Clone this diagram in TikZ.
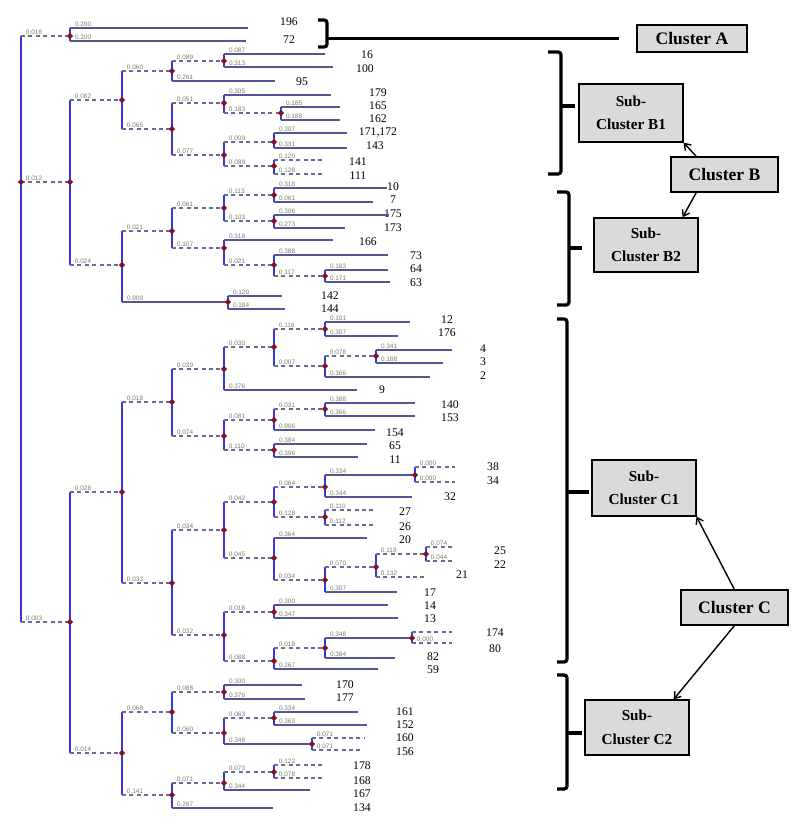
\documentclass[tikz,border=0pt]{standalone}
\usepackage{fontspec}
\setmainfont{Liberation Serif}
\setsansfont{Liberation Sans}
\usetikzlibrary{arrows.meta,shapes.geometric}

\definecolor{barblue}{RGB}{55,55,220}
\definecolor{leafline}{RGB}{85,85,150}
\definecolor{dashline}{RGB}{105,105,150}
\definecolor{lenlab}{RGB}{125,125,105}
\definecolor{nodered}{RGB}{130,20,35}
\definecolor{boxgray}{RGB}{218,218,218}

\tikzset{
  vbar/.style={draw=barblue, line width=2pt},
  ledge/.style={draw=leafline, line width=1pt},
  iedge/.style={draw=dashline, line width=0.9pt, dash pattern=on 3.5pt off 2.8pt},
  blab/.style={pos=0, anchor=south west, xshift=3pt, inner sep=0.8pt, text=lenlab, font=\sffamily\fontsize{5.5}{6}\selectfont},
  dot/.style={diamond, fill=nodered, inner sep=0pt, minimum size=5.5pt},
  leaf/.style={font=\fontsize{10}{12}\selectfont, inner sep=0pt},
  clbox/.style={draw, line width=1.3pt, fill=boxgray, font=\bfseries\fontsize{15}{18}\selectfont, minimum width=91pt, minimum height=29.8pt, inner sep=0pt},
  subbox/.style={draw, line width=1.3pt, fill=boxgray, align=center, font=\bfseries\fontsize{13}{20}\selectfont, minimum width=88.4pt, minimum height=48pt, inner sep=0pt},
  brk/.style={line width=2.8pt, rounded corners=2.5pt},
  arr/.style={-{Straight Barb[length=5pt,width=7pt]}, line width=1.2pt}
}

\begin{document}
\begin{tikzpicture}[x=0.03cm, y=-0.03cm]
        \useasboundingbox (0,0) rectangle (795,835);

        % root and the three clusters
        \coordinate (r) at (21,182);
        \coordinate (a) at (70,36);
        \coordinate (b) at (70,182);
        \coordinate (c) at (70,622);
        % cluster B
        \coordinate (b1) at (122,100);
        \coordinate (b2) at (122,265);
        \coordinate (b11) at (172,71);
        \coordinate (b12) at (172,129);
        \coordinate (b111) at (224,61);
        \coordinate (b121) at (224,103);
        \coordinate (b122) at (224,155);
        \coordinate (b1211) at (281,113);
        \coordinate (b1221) at (274,142);
        \coordinate (b1222) at (274,166);
        \coordinate (b21) at (172,231);
        \coordinate (b22) at (228,302);
        \coordinate (b211) at (224,208);
        \coordinate (b212) at (224,248);
        \coordinate (b2111) at (274,195);
        \coordinate (b2112) at (274,221);
        \coordinate (b2121) at (274,265);
        \coordinate (b21211) at (325,276);
        % cluster C
        \coordinate (c1) at (122,492);
        \coordinate (c2) at (122,753);
        \coordinate (c11) at (172,402);
        \coordinate (c12) at (172,583);
        \coordinate (c111) at (224,369);
        \coordinate (c112) at (224,436);
        \coordinate (c1111) at (274,347);
        \coordinate (c11111) at (325,329);
        \coordinate (c11112) at (325,366);
        \coordinate (c111121) at (376,356);
        \coordinate (c1121) at (274,420);
        \coordinate (c1122) at (274,450);
        \coordinate (c11211) at (325,409);
        \coordinate (c121) at (224,530);
        \coordinate (c122) at (224,635);
        \coordinate (c1211) at (274,502);
        \coordinate (c1212) at (274,558);
        \coordinate (c12111) at (325,487);
        \coordinate (c12112) at (325,517);
        \coordinate (c121111) at (415,475);
        \coordinate (c12121) at (325,580);
        \coordinate (c121211) at (376,567);
        \coordinate (c1212111) at (426,554);
        \coordinate (c1221) at (274,612);
        \coordinate (c1222) at (274,661);
        \coordinate (c12221) at (325,648);
        \coordinate (c122211) at (412,638);
        \coordinate (c21) at (172,712);
        \coordinate (c22) at (172,795);
        \coordinate (c211) at (224,692);
        \coordinate (c212) at (224,733);
        \coordinate (c2121) at (274,718);
        \coordinate (c2122) at (312,744);
        \coordinate (c221) at (224,783);
        \coordinate (c2211) at (274,772);

        % leaf ends
        \coordinate (l196) at (248,28);
        \coordinate (l72) at (246,41);
        \coordinate (l16) at (325,54);
        \coordinate (l100) at (333,67);
        \coordinate (l95) at (275,81);
        \coordinate (l179) at (331,95);
        \coordinate (l165) at (340,107);
        \coordinate (l162) at (340,120);
        \coordinate (l171) at (347,133);
        \coordinate (l143) at (347,148);
        \coordinate (l141) at (325,160);
        \coordinate (l111) at (325,174);
        \coordinate (l10) at (387,188);
        \coordinate (l7) at (373,202);
        \coordinate (l175) at (389,215);
        \coordinate (l173) at (345,228);
        \coordinate (l166) at (333,240);
        \coordinate (l73) at (388,255);
        \coordinate (l64) at (388,270);
        \coordinate (l63) at (390,282);
        \coordinate (l142) at (282,296);
        \coordinate (l144) at (285,309);
        \coordinate (l12) at (410,322);
        \coordinate (l176) at (398,336);
        \coordinate (l4) at (452,350);
        \coordinate (l3) at (443,363);
        \coordinate (l2) at (430,377);
        \coordinate (l9) at (357,390);
        \coordinate (l140) at (415,403);
        \coordinate (l153) at (415,416);
        \coordinate (l154) at (375,430);
        \coordinate (l65) at (367,444);
        \coordinate (l11) at (358,457);
        \coordinate (l38) at (455,467);
        \coordinate (l34) at (455,482);
        \coordinate (l32) at (412,497);
        \coordinate (l27) at (375,510);
        \coordinate (l26) at (375,525);
        \coordinate (l20) at (367,538);
        \coordinate (l25) at (455,547);
        \coordinate (l22) at (455,561);
        \coordinate (l21) at (425,577);
        \coordinate (l17) at (397,592);
        \coordinate (l14) at (388,605);
        \coordinate (l13) at (398,618);
        \coordinate (l174) at (452,632);
        \coordinate (l80) at (452,643);
        \coordinate (l82) at (395,658);
        \coordinate (l59) at (378,669);
        \coordinate (l170) at (302,685);
        \coordinate (l177) at (305,699);
        \coordinate (l161) at (358,712);
        \coordinate (l152) at (367,725);
        \coordinate (l160) at (365,738);
        \coordinate (l156) at (362,750);
        \coordinate (l178) at (323,765);
        \coordinate (l168) at (325,778);
        \coordinate (l167) at (310,790);
        \coordinate (l134) at (273,808);

        % leaf numbers
        \node[leaf] (t196) at (289,22) {196};
        \node[leaf] (t72) at (289,40) {72};
        \node[leaf] (t16) at (367,55) {16};
        \node[leaf] (t100) at (365,69) {100};
        \node[leaf] (t95) at (302,82) {95};
        \node[leaf] (t179) at (378,93) {179};
        \node[leaf] (t165) at (378,106) {165};
        \node[leaf] (t162) at (378,119) {162};
        \node[leaf] (t171) at (378,133) {171,172};
        \node[leaf] (t143) at (375,146) {143};
        \node[leaf] (t141) at (358,162) {141};
        \node[leaf] (t111) at (358,176) {111};
        \node[leaf] (t10) at (393,187) {10};
        \node[leaf] (t7) at (393,200) {7};
        \node[leaf] (t175) at (393,214) {175};
        \node[leaf] (t173) at (393,228) {173};
        \node[leaf] (t166) at (368,242) {166};
        \node[leaf] (t73) at (416,256) {73};
        \node[leaf] (t64) at (416,269) {64};
        \node[leaf] (t63) at (416,283) {63};
        \node[leaf] (t142) at (330,296) {142};
        \node[leaf] (t144) at (330,309) {144};
        \node[leaf] (t12) at (447,320) {12};
        \node[leaf] (t176) at (447,333) {176};
        \node[leaf] (t4) at (483,349) {4};
        \node[leaf] (t3) at (483,362) {3};
        \node[leaf] (t2) at (483,376) {2};
        \node[leaf] (t9) at (382,390) {9};
        \node[leaf] (t140) at (450,405) {140};
        \node[leaf] (t153) at (450,418) {153};
        \node[leaf] (t154) at (395,433) {154};
        \node[leaf] (t65) at (395,446) {65};
        \node[leaf] (t11) at (395,460) {11};
        \node[leaf] (t38) at (493,467) {38};
        \node[leaf] (t34) at (493,481) {34};
        \node[leaf] (t32) at (450,497) {32};
        \node[leaf] (t27) at (405,512) {27};
        \node[leaf] (t26) at (405,527) {26};
        \node[leaf] (t20) at (405,540) {20};
        \node[leaf] (t25) at (500,551) {25};
        \node[leaf] (t22) at (500,565) {22};
        \node[leaf] (t21) at (462,575) {21};
        \node[leaf] (t17) at (430,593) {17};
        \node[leaf] (t14) at (430,606) {14};
        \node[leaf] (t13) at (430,619) {13};
        \node[leaf] (t174) at (495,633) {174};
        \node[leaf] (t80) at (495,649) {80};
        \node[leaf] (t82) at (433,657) {82};
        \node[leaf] (t59) at (433,670) {59};
        \node[leaf] (t170) at (345,685) {170};
        \node[leaf] (t177) at (345,698) {177};
        \node[leaf] (t161) at (405,712) {161};
        \node[leaf] (t152) at (405,725) {152};
        \node[leaf] (t160) at (405,738) {160};
        \node[leaf] (t156) at (405,752) {156};
        \node[leaf] (t178) at (362,766) {178};
        \node[leaf] (t168) at (362,781) {168};
        \node[leaf] (t167) at (362,794) {167};
        \node[leaf] (t134) at (362,808) {134};

        % root
        \draw[vbar] (r |- a) -- (r |- c);
        \draw[iedge] (r |- a) -- node[blab] {0.018} (a);
        \draw[iedge] (r) -- node[blab] {0.012} (b);
        \draw[iedge] (r |- c) -- node[blab] {0.003} (c);
        \node[dot] at (r) {};

        % cluster A
        \draw[vbar] (a |- l196) -- (a |- l72);
        \draw[ledge] (a |- l196) -- node[blab] {0.200} (l196);
        \draw[ledge] (a |- l72) -- node[blab] {0.200} (l72);
        \node[dot] at (a) {};

        % cluster B
        \draw[vbar] (b |- b1) -- (b |- b2);
        \draw[iedge] (b |- b1) -- node[blab] {0.082} (b1);
        \draw[iedge] (b |- b2) -- node[blab] {0.024} (b2);
        \node[dot] at (b) {};

        \draw[vbar] (b1 |- b11) -- (b1 |- b12);
        \draw[iedge] (b1 |- b11) -- node[blab] {0.060} (b11);
        \draw[iedge] (b1 |- b12) -- node[blab] {0.065} (b12);
        \node[dot] at (b1) {};

        \draw[vbar] (b11 |- b111) -- (b11 |- l95);
        \draw[iedge] (b11 |- b111) -- node[blab] {0.089} (b111);
        \draw[ledge] (b11 |- l95) -- node[blab] {0.261} (l95);
        \node[dot] at (b11) {};

        \draw[vbar] (b111 |- l16) -- (b111 |- l100);
        \draw[ledge] (b111 |- l16) -- node[blab] {0.087} (l16);
        \draw[ledge] (b111 |- l100) -- node[blab] {0.313} (l100);
        \node[dot] at (b111) {};

        \draw[vbar] (b12 |- b121) -- (b12 |- b122);
        \draw[iedge] (b12 |- b121) -- node[blab] {0.051} (b121);
        \draw[iedge] (b12 |- b122) -- node[blab] {0.077} (b122);
        \node[dot] at (b12) {};

        \draw[vbar] (b121 |- l179) -- (b121 |- b1211);
        \draw[ledge] (b121 |- l179) -- node[blab] {0.305} (l179);
        \draw[iedge] (b121 |- b1211) -- node[blab] {0.183} (b1211);
        \node[dot] at (b121) {};

        \draw[vbar] (b1211 |- l165) -- (b1211 |- l162);
        \draw[ledge] (b1211 |- l165) -- node[blab] {0.185} (l165);
        \draw[ledge] (b1211 |- l162) -- node[blab] {0.188} (l162);
        \node[dot] at (b1211) {};

        \draw[vbar] (b122 |- b1221) -- (b122 |- b1222);
        \draw[iedge] (b122 |- b1221) -- node[blab] {0.009} (b1221);
        \draw[iedge] (b122 |- b1222) -- node[blab] {0.089} (b1222);
        \node[dot] at (b122) {};

        \draw[vbar] (b1221 |- l171) -- (b1221 |- l143);
        \draw[ledge] (b1221 |- l171) -- node[blab] {0.307} (l171);
        \draw[ledge] (b1221 |- l143) -- node[blab] {0.331} (l143);
        \node[dot] at (b1221) {};

        \draw[vbar] (b1222 |- l141) -- (b1222 |- l111);
        \draw[iedge] (b1222 |- l141) -- node[blab] {0.120} (l141);
        \draw[iedge] (b1222 |- l111) -- node[blab] {0.128} (l111);
        \node[dot] at (b1222) {};

        \draw[vbar] (b2 |- b21) -- (b2 |- b22);
        \draw[iedge] (b2 |- b21) -- node[blab] {0.021} (b21);
        \draw[ledge] (b2 |- b22) -- node[blab] {0.909} (b22);
        \node[dot] at (b2) {};

        \draw[vbar] (b21 |- b211) -- (b21 |- b212);
        \draw[iedge] (b21 |- b211) -- node[blab] {0.061} (b211);
        \draw[iedge] (b21 |- b212) -- node[blab] {0.107} (b212);
        \node[dot] at (b21) {};

        \draw[vbar] (b211 |- b2111) -- (b211 |- b2112);
        \draw[iedge] (b211 |- b2111) -- node[blab] {0.113} (b2111);
        \draw[iedge] (b211 |- b2112) -- node[blab] {0.103} (b2112);
        \node[dot] at (b211) {};

        \draw[vbar] (b2111 |- l10) -- (b2111 |- l7);
        \draw[ledge] (b2111 |- l10) -- node[blab] {0.318} (l10);
        \draw[ledge] (b2111 |- l7) -- node[blab] {0.061} (l7);
        \node[dot] at (b2111) {};

        \draw[vbar] (b2112 |- l175) -- (b2112 |- l173);
        \draw[ledge] (b2112 |- l175) -- node[blab] {0.306} (l175);
        \draw[ledge] (b2112 |- l173) -- node[blab] {0.273} (l173);
        \node[dot] at (b2112) {};

        \draw[vbar] (b212 |- l166) -- (b212 |- b2121);
        \draw[ledge] (b212 |- l166) -- node[blab] {0.318} (l166);
        \draw[iedge] (b212 |- b2121) -- node[blab] {0.021} (b2121);
        \node[dot] at (b212) {};

        \draw[vbar] (b2121 |- l73) -- (b2121 |- b21211);
        \draw[ledge] (b2121 |- l73) -- node[blab] {0.388} (l73);
        \draw[iedge] (b2121 |- b21211) -- node[blab] {0.117} (b21211);
        \node[dot] at (b2121) {};

        \draw[vbar] (b21211 |- l64) -- (b21211 |- l63);
        \draw[ledge] (b21211 |- l64) -- node[blab] {0.183} (l64);
        \draw[ledge] (b21211 |- l63) -- node[blab] {0.171} (l63);
        \node[dot] at (b21211) {};

        \draw[vbar] (b22 |- l142) -- (b22 |- l144);
        \draw[ledge] (b22 |- l142) -- node[blab] {0.120} (l142);
        \draw[ledge] (b22 |- l144) -- node[blab] {0.184} (l144);
        \node[dot] at (b22) {};

        % cluster C
        \draw[vbar] (c |- c1) -- (c |- c2);
        \draw[iedge] (c |- c1) -- node[blab] {0.028} (c1);
        \draw[iedge] (c |- c2) -- node[blab] {0.014} (c2);
        \node[dot] at (c) {};

        \draw[vbar] (c1 |- c11) -- (c1 |- c12);
        \draw[iedge] (c1 |- c11) -- node[blab] {0.018} (c11);
        \draw[iedge] (c1 |- c12) -- node[blab] {0.033} (c12);
        \node[dot] at (c1) {};

        \draw[vbar] (c11 |- c111) -- (c11 |- c112);
        \draw[iedge] (c11 |- c111) -- node[blab] {0.039} (c111);
        \draw[iedge] (c11 |- c112) -- node[blab] {0.074} (c112);
        \node[dot] at (c11) {};

        \draw[vbar] (c111 |- c1111) -- (c111 |- l9);
        \draw[iedge] (c111 |- c1111) -- node[blab] {0.030} (c1111);
        \draw[ledge] (c111 |- l9) -- node[blab] {0.376} (l9);
        \node[dot] at (c111) {};

        \draw[vbar] (c1111 |- c11111) -- (c1111 |- c11112);
        \draw[iedge] (c1111 |- c11111) -- node[blab] {0.116} (c11111);
        \draw[iedge] (c1111 |- c11112) -- node[blab] {0.007} (c11112);
        \node[dot] at (c1111) {};

        \draw[vbar] (c11111 |- l12) -- (c11111 |- l176);
        \draw[ledge] (c11111 |- l12) -- node[blab] {0.101} (l12);
        \draw[ledge] (c11111 |- l176) -- node[blab] {0.307} (l176);
        \node[dot] at (c11111) {};

        \draw[vbar] (c11112 |- c111121) -- (c11112 |- l2);
        \draw[iedge] (c11112 |- c111121) -- node[blab] {0.078} (c111121);
        \draw[ledge] (c11112 |- l2) -- node[blab] {0.366} (l2);
        \node[dot] at (c11112) {};

        \draw[vbar] (c111121 |- l4) -- (c111121 |- l3);
        \draw[ledge] (c111121 |- l4) -- node[blab] {0.341} (l4);
        \draw[ledge] (c111121 |- l3) -- node[blab] {0.188} (l3);
        \node[dot] at (c111121) {};

        \draw[vbar] (c112 |- c1121) -- (c112 |- c1122);
        \draw[iedge] (c112 |- c1121) -- node[blab] {0.081} (c1121);
        \draw[iedge] (c112 |- c1122) -- node[blab] {0.110} (c1122);
        \node[dot] at (c112) {};

        \draw[vbar] (c1121 |- c11211) -- (c1121 |- l154);
        \draw[iedge] (c1121 |- c11211) -- node[blab] {0.031} (c11211);
        \draw[ledge] (c1121 |- l154) -- node[blab] {0.906} (l154);
        \node[dot] at (c1121) {};

        \draw[vbar] (c11211 |- l140) -- (c11211 |- l153);
        \draw[ledge] (c11211 |- l140) -- node[blab] {0.388} (l140);
        \draw[ledge] (c11211 |- l153) -- node[blab] {0.366} (l153);
        \node[dot] at (c11211) {};

        \draw[vbar] (c1122 |- l65) -- (c1122 |- l11);
        \draw[ledge] (c1122 |- l65) -- node[blab] {0.384} (l65);
        \draw[ledge] (c1122 |- l11) -- node[blab] {0.396} (l11);
        \node[dot] at (c1122) {};

        \draw[vbar] (c12 |- c121) -- (c12 |- c122);
        \draw[iedge] (c12 |- c121) -- node[blab] {0.034} (c121);
        \draw[iedge] (c12 |- c122) -- node[blab] {0.032} (c122);
        \node[dot] at (c12) {};

        \draw[vbar] (c121 |- c1211) -- (c121 |- c1212);
        \draw[iedge] (c121 |- c1211) -- node[blab] {0.042} (c1211);
        \draw[iedge] (c121 |- c1212) -- node[blab] {0.045} (c1212);
        \node[dot] at (c121) {};

        \draw[vbar] (c1211 |- c12111) -- (c1211 |- c12112);
        \draw[iedge] (c1211 |- c12111) -- node[blab] {0.064} (c12111);
        \draw[iedge] (c1211 |- c12112) -- node[blab] {0.128} (c12112);
        \node[dot] at (c1211) {};

        \draw[vbar] (c12111 |- c121111) -- (c12111 |- l32);
        \draw[ledge] (c12111 |- c121111) -- node[blab] {0.334} (c121111);
        \draw[ledge] (c12111 |- l32) -- node[blab] {0.344} (l32);
        \node[dot] at (c12111) {};

        \draw[vbar] (c121111 |- l38) -- (c121111 |- l34);
        \draw[iedge] (c121111 |- l38) -- node[blab] {0.000} (l38);
        \draw[iedge] (c121111 |- l34) -- node[blab] {0.000} (l34);
        \node[dot] at (c121111) {};

        \draw[vbar] (c12112 |- l27) -- (c12112 |- l26);
        \draw[iedge] (c12112 |- l27) -- node[blab] {0.110} (l27);
        \draw[iedge] (c12112 |- l26) -- node[blab] {0.112} (l26);
        \node[dot] at (c12112) {};

        \draw[vbar] (c1212 |- l20) -- (c1212 |- c12121);
        \draw[ledge] (c1212 |- l20) -- node[blab] {0.364} (l20);
        \draw[iedge] (c1212 |- c12121) -- node[blab] {0.034} (c12121);
        \node[dot] at (c1212) {};

        \draw[vbar] (c12121 |- c121211) -- (c12121 |- l17);
        \draw[iedge] (c12121 |- c121211) -- node[blab] {0.070} (c121211);
        \draw[ledge] (c12121 |- l17) -- node[blab] {0.307} (l17);
        \node[dot] at (c12121) {};

        \draw[vbar] (c121211 |- c1212111) -- (c121211 |- l21);
        \draw[iedge] (c121211 |- c1212111) -- node[blab] {0.118} (c1212111);
        \draw[iedge] (c121211 |- l21) -- node[blab] {0.132} (l21);
        \node[dot] at (c121211) {};

        \draw[vbar] (c1212111 |- l25) -- (c1212111 |- l22);
        \draw[iedge] (c1212111 |- l25) -- node[blab] {0.074} (l25);
        \draw[iedge] (c1212111 |- l22) -- node[blab] {0.044} (l22);
        \node[dot] at (c1212111) {};

        \draw[vbar] (c122 |- c1221) -- (c122 |- c1222);
        \draw[iedge] (c122 |- c1221) -- node[blab] {0.018} (c1221);
        \draw[iedge] (c122 |- c1222) -- node[blab] {0.088} (c1222);
        \node[dot] at (c122) {};

        \draw[vbar] (c1221 |- l14) -- (c1221 |- l13);
        \draw[ledge] (c1221 |- l14) -- node[blab] {0.300} (l14);
        \draw[ledge] (c1221 |- l13) -- node[blab] {0.347} (l13);
        \node[dot] at (c1221) {};

        \draw[vbar] (c1222 |- c12221) -- (c1222 |- l59);
        \draw[iedge] (c1222 |- c12221) -- node[blab] {0.018} (c12221);
        \draw[ledge] (c1222 |- l59) -- node[blab] {0.267} (l59);
        \node[dot] at (c1222) {};

        \draw[vbar] (c12221 |- c122211) -- (c12221 |- l82);
        \draw[ledge] (c12221 |- c122211) -- node[blab] {0.348} (c122211);
        \draw[ledge] (c12221 |- l82) -- node[blab] {0.384} (l82);
        \node[dot] at (c12221) {};

        \draw[vbar] (c122211 |- l174) -- (c122211 |- l80);
        \draw[iedge] (c122211 |- l174) -- (l174);
        \draw[iedge] (c122211 |- l80) -- node[blab] {0.000} (l80);
        \node[dot] at (c122211) {};

        \draw[vbar] (c2 |- c21) -- (c2 |- c22);
        \draw[iedge] (c2 |- c21) -- node[blab] {0.068} (c21);
        \draw[iedge] (c2 |- c22) -- node[blab] {0.141} (c22);
        \node[dot] at (c2) {};

        \draw[vbar] (c21 |- c211) -- (c21 |- c212);
        \draw[iedge] (c21 |- c211) -- node[blab] {0.088} (c211);
        \draw[iedge] (c21 |- c212) -- node[blab] {0.060} (c212);
        \node[dot] at (c21) {};

        \draw[vbar] (c211 |- l170) -- (c211 |- l177);
        \draw[ledge] (c211 |- l170) -- node[blab] {0.300} (l170);
        \draw[ledge] (c211 |- l177) -- node[blab] {0.376} (l177);
        \node[dot] at (c211) {};

        \draw[vbar] (c212 |- c2121) -- (c212 |- c2122);
        \draw[iedge] (c212 |- c2121) -- node[blab] {0.063} (c2121);
        \draw[ledge] (c212 |- c2122) -- node[blab] {0.348} (c2122);
        \node[dot] at (c212) {};

        \draw[vbar] (c2121 |- l161) -- (c2121 |- l152);
        \draw[ledge] (c2121 |- l161) -- node[blab] {0.334} (l161);
        \draw[ledge] (c2121 |- l152) -- node[blab] {0.363} (l152);
        \node[dot] at (c2121) {};

        \draw[vbar] (c2122 |- l160) -- (c2122 |- l156);
        \draw[iedge] (c2122 |- l160) -- node[blab] {0.071} (l160);
        \draw[iedge] (c2122 |- l156) -- node[blab] {0.071} (l156);
        \node[dot] at (c2122) {};

        \draw[vbar] (c22 |- c221) -- (c22 |- l134);
        \draw[iedge] (c22 |- c221) -- node[blab] {0.071} (c221);
        \draw[ledge] (c22 |- l134) -- node[blab] {0.267} (l134);
        \node[dot] at (c22) {};

        \draw[vbar] (c221 |- c2211) -- (c221 |- l167);
        \draw[iedge] (c221 |- c2211) -- node[blab] {0.073} (c2211);
        \draw[ledge] (c221 |- l167) -- node[blab] {0.344} (l167);
        \node[dot] at (c221) {};

        \draw[vbar] (c2211 |- l178) -- (c2211 |- l168);
        \draw[iedge] (c2211 |- l178) -- node[blab] {0.122} (l178);
        \draw[iedge] (c2211 |- l168) -- node[blab] {0.078} (l168);
        \node[dot] at (c2211) {};

        % cluster boxes
        \node[clbox, minimum width=93.5pt, minimum height=23pt] (cA) at (692,38.5) {Cluster A};
        \node[clbox] (cB) at (724.5,174.5) {Cluster B};
        \node[clbox] (cC) at (734.5,607.5) {Cluster C};
        \node[subbox, minimum height=49.3pt] (sB1) at (631,113) {Sub-\\Cluster B1};
        \node[subbox, minimum height=46pt] (sB2) at (646,245) {Sub-\\Cluster B2};
        \node[subbox, minimum height=47.6pt] (sC1) at (644,488) {Sub-\\Cluster C1};
        \node[subbox, minimum height=46.8pt] (sC2) at (637,727.5) {Sub-\\Cluster C2};

        % brackets
        \coordinate (brA) at (327,38.5);
        \draw[brk] (318,20) -- (327,20) -- (327,47) -- (318,47);
        \draw[brk] (brA) -- ([xshift=-14.5pt]cA.west);
        \draw[brk] (548,52) -- (561,52) -- (561,174) -- (548,174);
        \draw[brk] (561,106) -- (575,106);
        \draw[brk] (557,192) -- (569,192) -- (569,305) -- (557,305);
        \draw[brk] (569,248) -- (582,248);
        \draw[brk] (557,319) -- (567,319) -- (567,662) -- (557,662);
        \draw[brk] (567,492) -- (589,492);
        \draw[brk] (557,675) -- (567,675) -- (567,789) -- (557,789);
        \draw[brk] (567,733) -- (582,733);

        % arrows
        \draw[arr] ([xshift=22pt]cB.north west) -- (sB1.south east);
        \draw[arr] ([xshift=22pt]cB.south west) -- ([xshift=-13.6pt]sB2.north east);
        \draw[arr] ([xshift=46pt]cC.north west) -- (sC1.south east);
        \draw[arr] ([xshift=46pt]cC.south west) -- ([xshift=-13.6pt]sC2.north east);
    \end{tikzpicture}
\end{document}
